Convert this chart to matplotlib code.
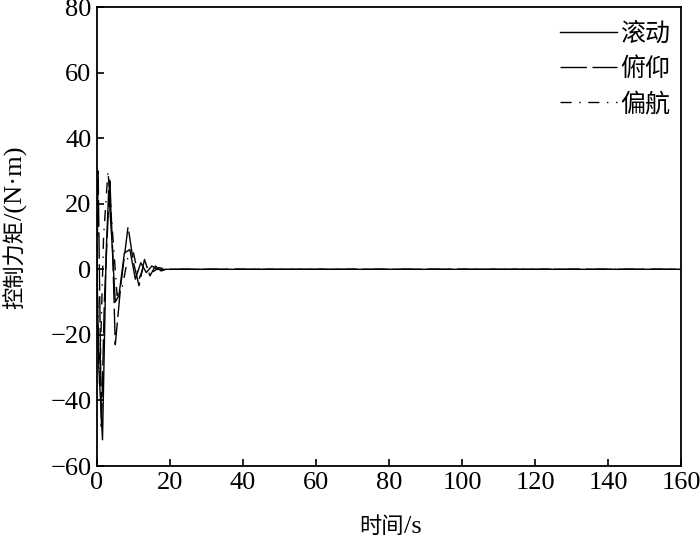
import numpy as np
from matplotlib import pyplot as plt

plt.rcParams['font.family'] = ['Liberation Serif', 'Noto Sans CJK SC']
plt.rcParams['axes.unicode_minus'] = True

# Roll (solid)
t_roll = [0, 0.5, 1.5, 2.5, 3.2, 4.0, 5.0, 6.0, 7.5, 9.0, 10.5, 12.0, 13.5, 15.0, 16.5, 18.0, 160]
v_roll = [0, -30, -52, 5, 24, 10, -10, -8, 5, 6, -3, 2, -1, 1, 0, 0, 0]
# Pitch (dashed)
t_pitch = [0, 0.3, 1.2, 2.0, 3.5, 4.3, 5.0, 6.5, 8.5, 10.0, 11.5, 13.0, 14.5, 16.0, 17.5, 19.0, 160]
v_pitch = [0, 30, -48, -10, 28, 5, -23, -5, 13, 2, -5, 3, -2, 1, -0.5, 0, 0]
# Yaw (dash-dot)
t_yaw = [0, 0.7, 1.8, 3.0, 4.0, 5.5, 7.0, 8.5, 10.0, 11.5, 13.0, 15.0, 17.0, 19.0, 160]
v_yaw = [0, -35, 10, 30, 15, -8, -5, 4, 5, -3, 1.5, -1, 0.5, 0, 0]

labels = ["滚动", "俯仰", "偏航"]

fig = plt.figure(figsize=(7, 5.39), dpi=100)
ax = fig.add_axes([0.1386, 0.1354, 0.8344, 0.8516])

ax.plot(t_roll, v_roll, "k", linestyle="-", lw=1.0, label=labels[0])
ax.plot(t_pitch, v_pitch, "k", linestyle=(0, (19, 4)), lw=1.0, label=labels[1])
ax.plot(t_yaw, v_yaw, "k", linestyle=(0, (8, 5.5, 1, 5.5)), lw=1.0, label=labels[2])

ax.set_xlim(0, 160)
ax.set_ylim(-60, 80)
ax.set_xticks(np.arange(0, 161, 20))
ax.set_yticks(np.arange(-60, 81, 20))
ax.tick_params(direction="in", length=5, labelsize=19, width=1.2, pad=4)
for s in ax.spines.values():
    s.set_linewidth(1.3)

# axis labels: Chinese part and Latin unit part set at their own sizes
fig.text(0.577, 0.012, "时间", fontsize=16, ha="right", va="baseline")
fig.text(0.577, 0.012, "/s", fontsize=19, ha="left", va="baseline")
fig.text(0.032, 0.592, "控制力矩", fontsize=16, rotation=90,
         rotation_mode="anchor", ha="right", va="baseline")
fig.text(0.032, 0.592, "/(N·m)", fontsize=19, rotation=90,
         rotation_mode="anchor", ha="left", va="baseline")

ax.legend(loc="upper right", bbox_to_anchor=(1.0, 0.99), frameon=False,
          fontsize=18, handlelength=2.3, handletextpad=0.1,
          labelspacing=0.45, borderaxespad=0.05)

fig.savefig("out.png", dpi=100)
